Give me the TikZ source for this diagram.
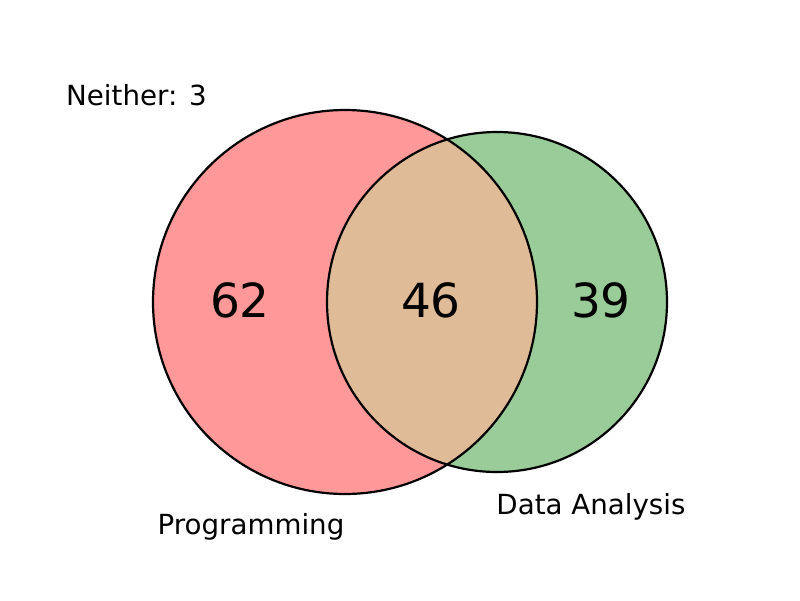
\documentclass[tikz,border=0pt]{standalone}
\usepackage{fontspec}
\setmainfont{DejaVu Sans}
\definecolor{setA}{RGB}{255,153,153}
\definecolor{setB}{RGB}{153,204,153}
\definecolor{setAB}{RGB}{224,187,151}
\begin{document}
\begin{tikzpicture}[x=1pt,y=-1pt,
  lbl/.style={font=\fontsize{27.7}{30}\selectfont, inner sep=0pt, anchor=base},
  num/.style={font=\fontsize{47}{50}\selectfont, inner sep=0pt, anchor=base},
  ring/.style={draw=black, line width=2.2pt}]
\useasboundingbox (0,0) rectangle (800,600);
\coordinate (A) at (345,302);
\coordinate (B) at (497,302);
\fill[setA] (A) circle (192);
\fill[setB] (B) circle (170);
\begin{scope}
  \clip (A) circle (192);
  \fill[setAB] (B) circle (170);
\end{scope}
\draw[ring] (A) circle (192);
\draw[ring] (B) circle (170);
\node[num] (n62) at (240,317) {62};
\node[num] (n46) at (431,317) {46};
\node[num] (n39) at (601,317) {39};
\node[lbl, anchor=base west] (neither) at (66,105) {Neither: 3};
\node[lbl] (prog) at (251,534) {Programming};
\node[lbl] (data) at (591,514) {Data Analysis};
\end{tikzpicture}
\end{document}
